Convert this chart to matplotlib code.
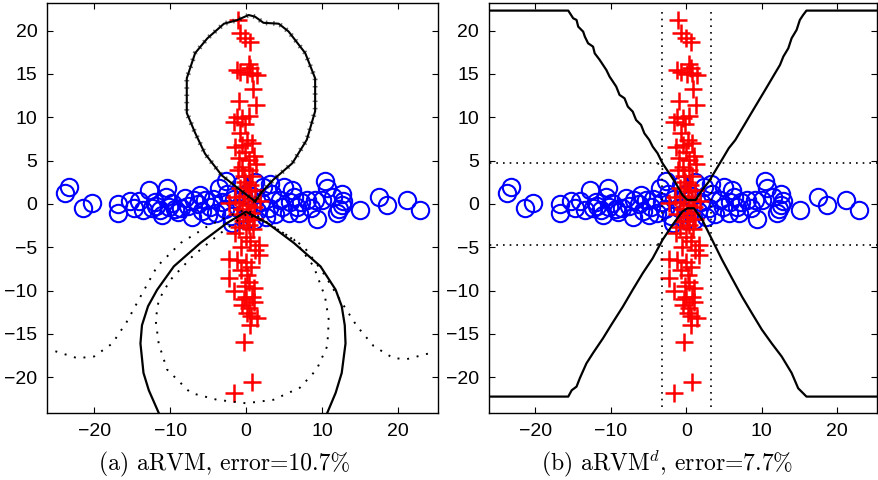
import matplotlib
matplotlib.use('Agg')
import matplotlib.pyplot as plt
import numpy as np

plt.rcParams['font.family'] = ['Liberation Sans', 'DejaVu Sans']
plt.rcParams['mathtext.fontset'] = 'cm'

# class +1 (red pluses)
red_x = [-1.05, -0.75, -0.1, 0.55, -1.2, -0.75, 0.35, 0.55, 0.8, 1.45, 0.1, 0.9,
         -0.95, 1.25, -1.6, -1.2, -0.5, 0.35, -0.2, -0.75, 0.15, -1.4, -0.5, 0.8,
         -0.95, 0.35, 1.0, -0.1, -0.5, 0.35, -0.3, 0.8, 1.3, -1.1,
         -0.2, 0.5, -0.8, 0.2, 1.2, -1.5, -0.3, 0.7, 1.8, -2.3, -0.9, 0.3, 1.0,
         -0.5, 0.6, -1.2, 0.1, 1.1, -0.4, 0.4, -0.9, 0.9,
         -1.4, 0.0, 0.55, 1.65, -0.6, 1.2, 1.65, -2.3, -1.2, 0.0, 0.6, -0.7,
         -2.3, 0.15, 0.35, -0.2, 1.0, -1.6, 0.0, 0.8, -0.5, 0.35, 1.0, 0.15,
         1.45, 0.55, -0.3, 0.6, -0.3, 0.8, -1.6]
red_y = [21.2, 19.7, 19.1, 18.7, 15.4, 15.2, 16.2, 15.7, 15.1, 14.9, 15.0, 13.3,
         11.9, 11.4, 9.5, 10.0, 9.9, 10.1, 9.2, 8.2, 7.4, 6.6, 6.8, 7.0,
         5.3, 5.1, 5.5, 6.0, 4.3, 3.9, 3.2, 3.2, 4.6, 3.9,
         2.5, 2.2, 1.8, 1.5, 1.6, 0.8, 0.9, 0.6, 0.3, 0.1, 0.2, -0.1, -0.4,
         -0.6, -1.0, -1.2, -1.5, -1.7, -2.0, -2.4, -2.7, -2.9,
         -3.4, -3.8, -4.3, -4.7, -5.0, -5.3, -5.9, -6.3, -6.5, -6.7, -7.3, -7.6,
         -8.6, -8.2, -9.0, -9.5, -9.7, -10.1, -10.7, -10.7, -11.7, -12.0, -11.3, -12.6,
         -13.2, -14.0, -11.0, -12.9, -15.9, -20.5, -21.8]

# class -1 (blue circles)
blue_x = [-23.3, -23.8, -21.4, -20.3, -16.8, -16.8, -15.3, -14.1, -12.8, -13.5, -12.4,
          -10.4, -10.6, -11.3, -11.1, -9.8, -12.0, -11.8, -10.2, -9.0, -8.0, -6.9,
          -7.1, -7.6, -6.3, -5.8, -5.4, -4.7, -4.4, -3.9, -3.2, -2.7, -2.5, -2.8,
          -2.0, -1.6, -1.0, -0.7, -0.4, 0.2, 0.8, 1.5, 2.3, 2.0, 3.4, 3.0, 3.8,
          4.5, 5.0, 5.6, 4.8, 6.3, 6.7, 7.3, 7.0, 8.0, 9.4, 9.1, 10.4, 10.7, 10.0,
          11.5, 12.0, 12.6, 12.8, 12.6, 12.3, 15.0, 17.5, 18.6, 21.2, 22.9,
          -8.5, -6.0, -5.0, -3.5, -1.8, -0.2, 1.2, 1.0, 2.6, 3.2, 5.8, 6.0,
          -14.8, -9.3, 8.6]
blue_y = [2.0, 1.3, -0.5, 0.1, 0.0, -1.1, 0.3, 0.3, 1.6, -0.7, -0.5,
          1.8, 0.8, -0.7, -1.3, 0.1, 0.2, -0.2, -0.4, -0.9, 0.7, 0.5,
          -1.5, -0.2, 0.0, -0.8, 0.4, -0.3, 0.6, -1.0, 0.2, 2.6, 1.2, -0.6,
          -1.4, 0.6, -0.5, 2.2, 1.0, -0.3, 0.9, -0.8, 2.0, 0.2, 1.2, -0.5, -1.2,
          0.5, 2.0, -1.1, -0.4, 0.8, -0.3, 0.2, -1.0, 0.5, -1.7, 0.5, 2.6, 1.8, 0.5,
          0.8, -1.1, 1.2, 0.3, -0.1, -0.6, -0.7, 0.8, -0.1, 0.5, -0.7,
          -0.5, 1.0, -1.3, 1.8, -2.2, -1.8, 2.5, -1.8, -1.5, 2.3, 0.2, 1.6,
          -0.5, -0.6, -0.5]

# (a) aRVM boundaries
a_loop_x = [1.2, -0.75, -3.2, -5.4, -6.7, -7.8, -7.8, -6.7, -5.1, -2.9, -1.2, 0.35, 1.2,
            2.3, 4.3, 5.6, 7.8, 9.1, 9.1, 8.0, 6.1, 3.6, 2.1, 1.2]
a_loop_y = [0.3, 1.6, 3.3, 5.8, 8.2, 10.5, 14.5, 17.4, 19.1, 20.8, 21.2, 21.8, 21.6,
            20.9, 20.8, 19.9, 17.4, 14.5, 10.7, 7.4, 4.7, 2.8, 1.4, 0.3]
a_low_x = [-11.5, -12.8, -13.5, -13.9, -13.7, -12.9, -11.7, -9.5, -6.0, -2.5, 0.0,
           2.8, 6.3, 9.8, 11.8, 12.6, 13.0, 13.1, 12.6, 11.8, 10.7]
a_low_y = [-24.1, -21.5, -19.5, -16.1, -14.0, -11.8, -9.9, -7.2, -4.5, -2.2, -0.9,
           -2.2, -4.5, -7.2, -9.9, -11.8, -14.0, -16.1, -19.5, -21.8, -24.1]
a_out_x = [-25.1, -22.2, -20.0, -17.6, -15.7, -13.9, -11.7, -8.6, -5.1, -2.5, 0.0,
           3.6, 7.6, 10.2, 12.4, 14.6, 16.8, 19.4, 21.2, 24.3]
a_out_y = [-17.0, -17.8, -17.6, -16.1, -13.6, -10.7, -7.2, -4.5, -2.6, -1.5, -0.6,
           -2.6, -4.9, -8.0, -11.1, -14.1, -16.4, -17.8, -17.9, -17.2]
a_in_x = [0.0, -3.4, -7.0, -10.0, -11.5, -11.9, -11.5, -10.4, -7.3, -3.8, 0.0,
          3.6, 7.1, 9.3, 10.7, 10.9, 10.4, 8.9, 6.3, 3.0, 0.0]
a_in_y = [-1.2, -3.4, -6.0, -8.8, -11.1, -13.4, -16.1, -19.1, -21.8, -22.6, -23.0,
          -22.6, -21.2, -19.1, -16.4, -13.4, -10.7, -7.2, -4.1, -2.3, -1.2]

# (b) aRVM^d boundaries
b_up_x = [-27.0, -15.66, -15.0, -14.56, -14.34, -13.68, -13.46, -13.03, -12.37, -12.15,
          -11.49, -11.05, -10.61, -10.18, -9.74, -9.30, -8.86, -8.20, -7.76, -7.11,
          -6.67, -6.01, -5.57, -4.91, -4.47, -3.82, -3.16, -2.28, -1.40, -0.53, 0.13,
          1.23, 2.11, 2.98, 3.64, 4.30, 4.96, 5.61, 6.49, 7.15, 7.81, 8.46, 9.12,
          9.78, 10.44, 11.10, 11.75, 12.41, 12.85, 13.51, 13.95, 14.61, 15.04, 15.48,
          15.92, 27.0]
b_up_y = [22.31, 22.31, 21.42, 21.23, 20.46, 19.88, 19.31, 18.54, 18.15, 17.38,
          16.62, 16.04, 15.46, 14.69, 14.12, 13.54, 12.58, 12.19, 11.23, 10.65,
          9.69, 9.12, 8.15, 7.38, 6.62, 5.85, 4.69, 3.54, 2.38, 1.04, 0.46,
          0.46, 1.62, 2.58, 3.54, 4.50, 5.46, 6.42, 7.38, 8.35, 9.31, 10.27, 11.23,
          12.19, 13.15, 14.12, 15.08, 16.04, 17.0, 17.96, 19.12, 20.08, 21.23, 21.81,
          22.31, 22.31]
b_lo_x = [-27.0, -15.66, -15.2, -14.56, -14.12, -13.25, -12.37, -11.05, -9.96, -8.42,
          -7.11, -5.79, -4.47, -3.16, -1.84, -0.53, 0.13, 1.0, 2.11, 3.42, 4.74,
          6.05, 7.37, 8.68, 10.0, 11.32, 12.63, 13.95, 14.82, 15.92, 27.0]
b_lo_y = [-22.23, -22.23, -21.5, -21.08, -20.1, -18.4, -17.2, -15.5, -13.96, -11.85,
          -9.9, -8.0, -6.27, -4.15, -2.42, -0.88, -0.5, -0.5, -1.85, -4.15, -6.46,
          -8.58, -10.69, -12.6, -14.5, -16.1, -17.6, -19.5, -21.27, -22.23, -22.23]
b_vert_x = [-3.25, 3.33]
b_vert_y = [-23.4, 22.4]
b_horz_y = [4.7, -4.7]
b_horz_x = [-27.0, -3.8, -2.7, 3.9, 27.0]

XLIM = (-26.2, 25.3)
YLIM = (-24.1, 23.2)

fig = plt.figure(figsize=(8.79, 4.8), dpi=100)
ax1 = fig.add_axes([0.0535, 0.14, 0.445, 0.854])
ax2 = fig.add_axes([0.556, 0.14, 0.442, 0.854])

for ax in (ax1, ax2):
    ax.plot(blue_x, blue_y, 'o', mfc='none', mec='#0000ff', ms=12.5, mew=1.5, zorder=3)
    ax.plot(red_x, red_y, '+', color='#ff0000', ms=13, mew=1.8, zorder=4)

# panel (a)
ax1.plot(a_loop_x, a_loop_y, 'k-', lw=1.5, zorder=5)
ax1.plot(a_loop_x, a_loop_y, color='k', lw=3.5, ls=(0, (0.3, 1.2)), alpha=0.6, zorder=5)
ax1.plot(a_low_x, a_low_y, 'k-', lw=1.6, zorder=5)
ax1.plot(a_out_x, a_out_y, color='k', lw=1.4, ls=(0, (1, 4)), zorder=5)
ax1.plot(a_in_x, a_in_y, color='k', lw=1.4, ls=(0, (1, 4)), zorder=5)

# panel (b)
ax2.plot(b_up_x, b_up_y, 'k-', lw=1.6, zorder=5)
ax2.plot(b_lo_x, b_lo_y, 'k-', lw=1.6, zorder=5)
for vx in b_vert_x:
    ax2.plot([vx, vx], b_vert_y, color='k', lw=1.2, ls=(0, (1, 3)), zorder=5)
for hy in b_horz_y:
    s = np.sign(hy)
    ax2.plot(b_horz_x[:2], [hy, hy], color='k', lw=1.2, ls=(0, (1, 3)), zorder=5)
    ax2.plot([b_horz_x[1], b_horz_x[2]], [hy, hy - s * 1.2], color='k', lw=1.2, ls=(0, (1, 3)), zorder=5)
    ax2.plot(b_horz_x[3:], [hy, hy], color='k', lw=1.2, ls=(0, (1, 3)), zorder=5)

for ax in (ax1, ax2):
    ax.set_xlim(*XLIM)
    ax.set_ylim(*YLIM)
    ax.set_xticks([-20, -10, 0, 10, 20])
    ax.set_yticks([-20, -15, -10, -5, 0, 5, 10, 15, 20])
    ax.tick_params(direction='in', top=True, right=True, length=4, labelsize=14, pad=7)
    for sp in ax.spines.values():
        sp.set_linewidth(1.0)

fig.text(0.256, 0.032, '(a) aRVM, error=10.7%', ha='center', va='center',
         fontsize=17, family='cmr10')
fig.text(0.759, 0.032, r'(b) aRVM$^{d}$, error=7.7%', ha='center', va='center',
         fontsize=17, family='cmr10')

fig.savefig('out.png', dpi=100)
